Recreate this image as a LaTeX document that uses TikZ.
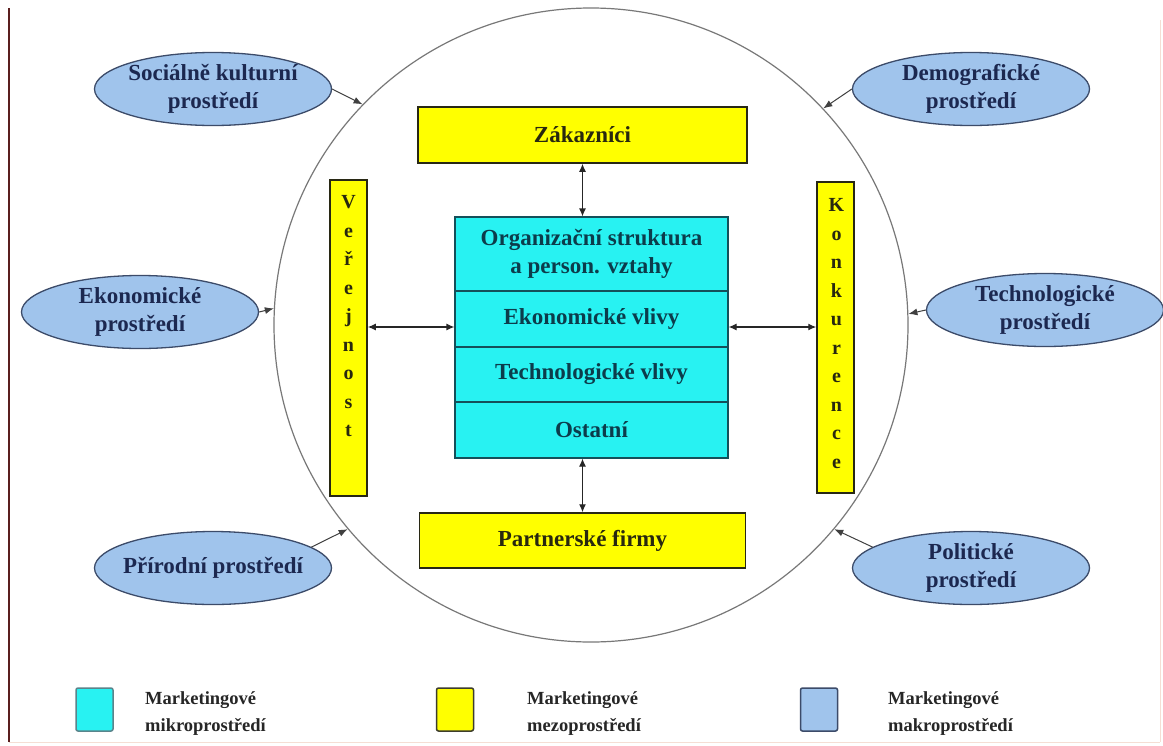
\documentclass[tikz,border=0pt]{standalone}
\usepackage{fontspec}
\setmainfont{Liberation Serif}[BoldFont={Liberation Serif Bold}]
\newfontfamily\diagfont{Liberation Serif Bold}
\usetikzlibrary{shapes.geometric,arrows.meta,calc}

\definecolor{mikro}{RGB}{40,242,242}
\definecolor{mikroline}{RGB}{20,80,90}
\definecolor{mezo}{RGB}{255,255,0}
\definecolor{mezoline}{RGB}{40,40,20}
\definecolor{makro}{RGB}{160,196,236}
\definecolor{makroline}{RGB}{60,75,105}
\definecolor{navytext}{RGB}{28,40,80}
\definecolor{tealtext}{RGB}{12,60,75}
\definecolor{olivetext}{RGB}{40,40,15}
\definecolor{ringline}{RGB}{120,120,120}
\definecolor{frameleft}{RGB}{90,30,30}
\definecolor{framefaint}{RGB}{245,222,212}

\tikzset{
  envring/.style={circle, draw=ringline, line width=1.2pt, minimum size=634pt, inner sep=0pt},
  macrobox/.style={ellipse, draw=makroline, line width=1.3pt, fill=makro, minimum width=237pt, minimum height=73pt, inner sep=0pt},
  macrotext/.style={text=navytext, font=\diagfont\fontsize{23}{28}\selectfont, align=center, inner sep=0pt},
  mezobox/.style={rectangle, draw=mezoline, line width=1.5pt, fill=mezo, inner sep=0pt},
  mezotext/.style={text=olivetext, font=\diagfont\fontsize{23}{28}\selectfont, align=center, inner sep=0pt},
  vertext/.style={text=olivetext, font=\diagfont\fontsize{20}{28.5}\selectfont, align=center, inner sep=0pt},
  microrow/.style={rectangle, draw=mikroline, line width=1.2pt, fill=mikro, minimum width=273pt, inner sep=0pt,
    text=tealtext, font=\diagfont\fontsize{23}{28}\selectfont, align=center},
  dbl/.style={{Latex[length=8pt,width=7pt]}-{Latex[length=8pt,width=7pt]}, line width=1.2pt, draw=black!85},
  infl/.style={-{Latex[length=9pt,width=7pt]}, line width=1pt, draw=black!75},
  legsq/.style={rectangle, rounded corners=2pt, line width=1.5pt, minimum width=37pt, minimum height=43pt, inner sep=0pt},
  legtext/.style={text=black!85, font=\diagfont\fontsize{18.5}{27}\selectfont, align=left, inner sep=0pt, anchor=west},
}

\begin{document}
\begin{tikzpicture}[x=1pt,y=-1pt]
  % page area and frame lines
  \fill[white] (0,0) rectangle (1163,745);
  \useasboundingbox (0,0) rectangle (1163,745);
  \draw[frameleft, line width=1.4pt] (9,8) -- (9,742);
  \draw[framefaint, line width=1pt] (1160,20) -- (1160,742);
  \draw[framefaint, line width=1pt] (9,742) -- (1160,742);

  % environment ring
  \node[envring] (env) at (591,325) {};

  % meso environment
  \node[mezobox, minimum width=329pt, minimum height=56pt] (zak) at (582.5,135) {};
  \node[mezotext] (zakT) at (zak) {Zákazníci};
  \node[mezobox, minimum width=326pt, minimum height=55pt] (par) at (582.5,540.5) {};
  \node[mezotext] (parT) at (par) {Partnerské firmy};
  \node[mezobox, minimum width=37pt, minimum height=316pt] (ver) at (348.5,338) {};
  \node[vertext, anchor=north] (verT) at ($(ver.north)+(0,16)$) {V\\e\\ř\\e\\j\\n\\o\\s\\t};
  \node[mezobox, minimum width=37pt, minimum height=311pt] (kon) at (835.5,337.5) {};
  \node[vertext, anchor=north] (konT) at ($(kon.north)+(1,17)$) {K\\o\\n\\k\\u\\r\\e\\n\\c\\e};

  % micro environment (the firm)
  \node[microrow, minimum height=74pt] (org) at (591.5,254) {Organizační struktura\\a person. vztahy};
  \node[microrow, minimum height=56pt] (eko) at (591.5,319) {Ekonomické vlivy};
  \node[microrow, minimum height=55pt] (tec) at (591.5,374.5) {Technologické vlivy};
  \node[microrow, minimum height=56pt] (ost) at (591.5,430) {Ostatní};

  % links inside the ring
  \coordinate (hy) at (0,327);
  \draw[dbl] (zak.south) -- (zak.south |- org.north);
  \draw[dbl] (par.north |- ost.south) -- (par.north);
  \draw[dbl] (ver.east |- hy) -- (org.west |- hy);
  \draw[dbl] (org.east |- hy) -- (kon.west |- hy);

  % macro environment
  \node[macrobox] (soc) at (213,89) {};
  \node[macrotext] (socT) at (soc) {Sociálně kulturní\\prostředí};
  \node[macrobox] (ekp) at (140,312) {};
  \node[macrotext] (ekpT) at (ekp) {Ekonomické\\prostředí};
  \node[macrobox] (pri) at (213,568) {};
  \node[macrotext] (priT) at (pri) {Přírodní prostředí};
  \node[macrobox] (dem) at (971,89) {};
  \node[macrotext] (demT) at (dem) {Demografické\\prostředí};
  \node[macrobox] (tep) at (1045,310) {};
  \node[macrotext] (tepT) at (tep) {Technologické\\prostředí};
  \node[macrobox] (pol) at (971,568) {};
  \node[macrotext] (polT) at (pol) {Politické\\prostředí};

  \draw[infl] (soc.east) -- (env.136);
  \draw[infl] (ekp.east) -- (env.177.6);
  \draw[infl] (pri.12) -- (env.220.6);
  \draw[infl] (dem.west) -- (env.43.7);
  \draw[infl] (tep.west) -- (env.2.7);
  \draw[infl] (pol.168) -- (env.320.3);

  % legend
  \node[legsq, draw=mikroline!70, fill=mikro] (lgMi) at (94.5,709.5) {};
  \node[legtext] (lgMiT) at (145,714) {Marketingové\\mikroprostředí};
  \node[legsq, draw=mezoline!90, fill=mezo] (lgMe) at (455,709.5) {};
  \node[legtext] (lgMeT) at (527,714) {Marketingové\\mezoprostředí};
  \node[legsq, draw=makroline, fill=makro] (lgMa) at (819,709.5) {};
  \node[legtext] (lgMaT) at (888,714) {Marketingové\\makroprostředí};
\end{tikzpicture}
\end{document}
